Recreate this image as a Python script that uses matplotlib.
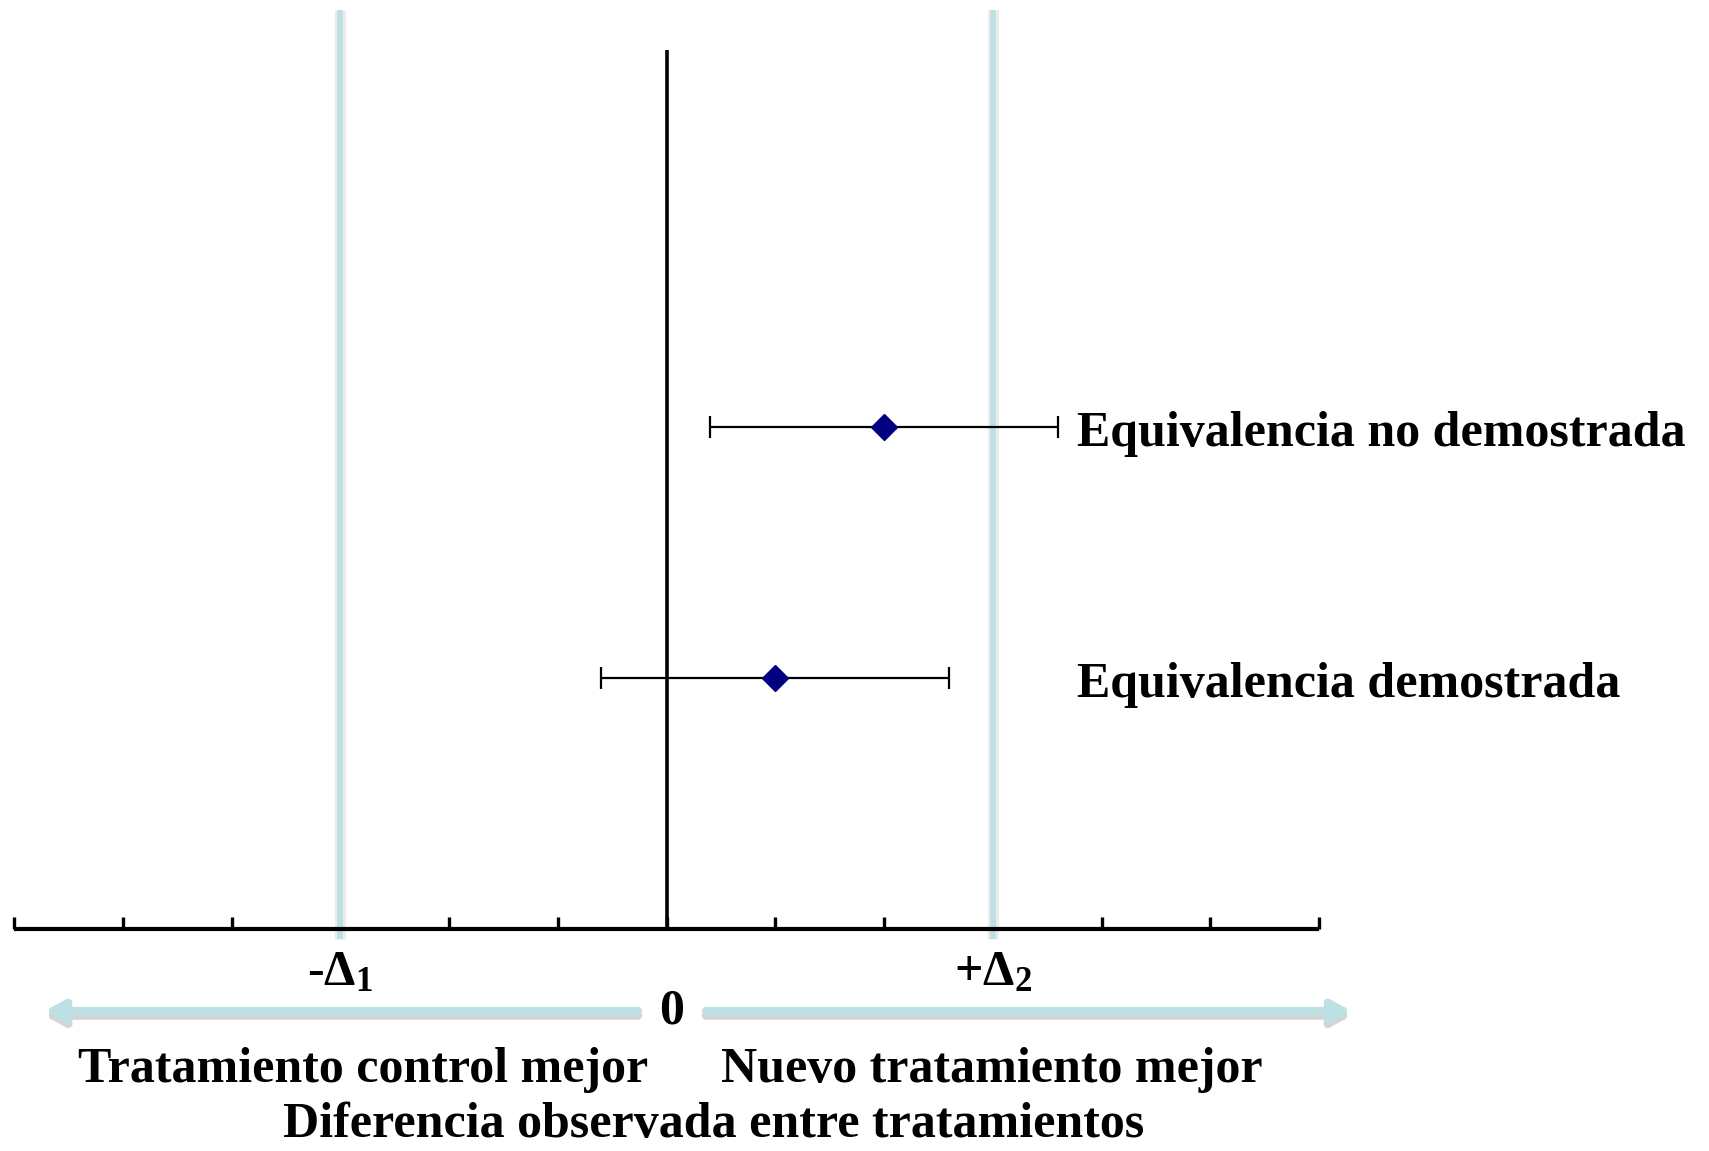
import matplotlib
matplotlib.use("Agg")
import matplotlib.pyplot as plt

# ---- data ----
tick_positions = list(range(-6, 7))
margin_positions = [-3, 3]
margin_labels = [r"-$\Delta_1$", r"+$\Delta_2$"]
estimates = [2.0, 1.0]
ci_low = [0.4, -0.6]
ci_high = [3.6, 2.6]
rows = [2, 1]
row_labels = ["Equivalencia no demostrada", "Equivalencia demostrada"]
left_label = "Tratamiento control mejor"
right_label = "Nuevo tratamiento mejor"
xlabel = "Diferencia observada entre tratamientos"

plt.rcParams['font.family'] = ['Liberation Serif', 'DejaVu Serif']
plt.rcParams['font.weight'] = 'bold'
plt.rcParams['mathtext.fontset'] = 'custom'
plt.rcParams['mathtext.rm'] = 'Liberation Serif:bold'
plt.rcParams['mathtext.it'] = 'Liberation Serif:bold'
plt.rcParams['mathtext.bf'] = 'Liberation Serif:bold'

W, H = 1709, 1151
fig = plt.figure(figsize=(W / 100, H / 100), dpi=100)
left_px, right_px, axis_px = 14, 1319, 929
ax = fig.add_axes([left_px / W, (H - axis_px) / H, (right_px - left_px) / W, axis_px / H])
ax.set_xlim(-6, 6)
ax.set_ylim(0, 3.70)
for s in ['left', 'right', 'top']:
    ax.spines[s].set_visible(False)
ax.spines['bottom'].set_linewidth(3)
ax.spines['bottom'].set_capstyle('butt')
ax.set_yticks([])
ax.set_xticks(tick_positions)
ax.set_xticklabels([''] * len(tick_positions))
ax.tick_params(axis='x', direction='in', length=9, width=2.4, color='black')

LB = '#bde0e5'
FS = 36

# margin lines with light shadow
for xm in margin_positions:
    ax.plot([xm, xm], [-0.04, 3.66], color='#ececec', lw=8, solid_capstyle='butt', clip_on=False, zorder=1)
    ax.plot([xm, xm], [-0.04, 3.66], color=LB, lw=4, solid_capstyle='butt', clip_on=False, zorder=2)

# zero line
ax.plot([0, 0], [0, 3.5], color='black', lw=2.6, solid_capstyle='butt', zorder=3)

# estimates with CIs
xerr = [[e - l for e, l in zip(estimates, ci_low)], [h - e for e, h in zip(estimates, ci_high)]]
ax.errorbar(estimates, rows, xerr=xerr, fmt='D', color='#000080', markersize=13,
            ecolor='black', elinewidth=1.6, capsize=8, capthick=1.6, zorder=4)

for r, lab in zip(rows, row_labels):
    ax.text(3.775, r - 0.03, lab, fontsize=FS, fontweight='bold', ha='left', va='center')

# margin labels
for xm, lab in zip(margin_positions, margin_labels):
    ax.text(xm, -0.175, lab, fontsize=FS, ha='center', va='center', clip_on=False)

# arrows
y_arr = -0.327
astyle = '->,head_length=1.1,head_width=0.6'
for (x0, x1) in [(-0.262, -5.72), (0.363, 6.30)]:
    ax.annotate('', xy=(x1, y_arr - 0.018), xytext=(x0, y_arr - 0.018), xycoords='data',
                arrowprops=dict(arrowstyle=astyle, lw=6,
                                color='#d4d4d4', shrinkA=0, shrinkB=0), annotation_clip=False)
    ax.annotate('', xy=(x1, y_arr), xytext=(x0, y_arr), xycoords='data',
                arrowprops=dict(arrowstyle=astyle, lw=6,
                                color=LB, shrinkA=0, shrinkB=0), annotation_clip=False)

ax.text(0.05, y_arr, '0', fontsize=FS, ha='center', va='center')
ax.text(-2.79, -0.562, left_label, fontsize=FS, ha='center', va='center')
ax.text(2.99, -0.562, right_label, fontsize=FS, ha='center', va='center')
ax.text(0.437, -0.78, xlabel, fontsize=FS, ha='center', va='center')

fig.savefig('out.png', dpi=100, facecolor='white')
